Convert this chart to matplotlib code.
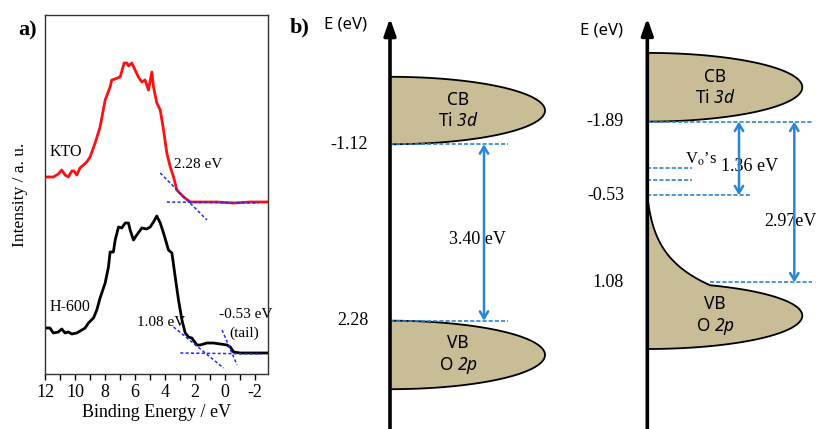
import numpy as np
import matplotlib
matplotlib.use("Agg")
import matplotlib.pyplot as plt
from matplotlib.ticker import MultipleLocator

plt.rcParams['font.family'] = ['Liberation Serif', 'DejaVu Serif']
plt.rcParams['axes.unicode_minus'] = False
plt.rcParams['mathtext.fontset'] = 'custom'
plt.rcParams['mathtext.rm'] = 'Noto Sans'
plt.rcParams['mathtext.it'] = 'Noto Sans:italic'
# \mathbf is used for the italic orbital names so digits come out italic too
plt.rcParams['mathtext.bf'] = 'Noto Sans:italic'

# ---- panel a: valence band XPS ----
kto_be = [12.0, 11.44, 11.11, 10.88, 10.66, 10.44, 10.21, 10.06, 9.88, 9.66, 9.21, 8.99,
          8.65, 8.32, 7.98, 7.65, 7.54, 7.31, 6.98, 6.71, 6.53, 6.42, 6.20, 5.98, 5.76,
          5.53, 5.31, 5.09, 4.86, 4.75, 4.53, 4.30, 4.08, 3.86, 3.63, 3.41, 3.19, 2.74,
          2.29, 1.63, 0.51, -0.60, -1.72, -2.84]
kto_int = [197, 197, 200, 204, 199, 197, 203, 203, 199, 206, 212, 217, 231, 247, 274,
           287, 294, 295, 297, 311, 311, 308, 311, 304, 297, 292, 294, 284, 302, 287,
           271, 264, 244, 221, 207, 197, 184, 177, 172, 172, 172, 171, 172, 172]

h600_be = [12.0, 11.67, 11.44, 11.11, 10.88, 10.66, 10.44, 10.21, 9.88, 9.54, 9.32, 9.10,
           8.76, 8.54, 8.32, 7.98, 7.76, 7.65, 7.43, 7.31, 7.09, 6.87, 6.64, 6.42, 6.31,
           6.09, 5.87, 5.53, 5.20, 4.97, 4.75, 4.53, 4.30, 4.08, 3.75, 3.52, 3.30, 3.08,
           2.85, 2.63, 2.41, 2.19, 1.85, 1.63, 1.18, 0.74, 0.29, -0.16, -0.38, -0.60,
           -1.05, -1.94, -2.84]
h600_int = [46, 46, 41, 42, 45, 41, 42, 40, 41, 44, 46, 51, 56, 64, 76, 91, 107, 122,
            122, 134, 147, 146, 151, 151, 144, 134, 139, 146, 145, 147, 152, 158, 151,
            141, 124, 121, 97, 74, 54, 41, 37, 36, 29, 29, 31, 31, 30, 29, 27, 22, 21,
            21, 21]

# tangent / baseline construction lines (x pairs, y pairs)
kto_tangent = ([4.30, 1.18], [201, 154])
kto_base = ([3.86, -2.28], [172, 171])
h600_tangent = ([3.41, 0.07], [47, 6])
h600_tail_tangent = ([0.17, -0.83], [44, 9])
h600_base = ([2.96, -2.46], [21, 20])

# ---- panel b: band diagrams (eV) ----
kto_cb, kto_vb = -1.12, 2.28
h_cb, h_tail, h_vb = -1.89, -0.53, 1.08
vo_levels = [-1.03, -0.81]

tan = '#c8bd96'
blue = '#2a85d5'
dot_blue = '#1f2bff'

fig = plt.figure(figsize=(8.16, 4.29), dpi=100)
W, H = 816.0, 429.0

ax = fig.add_axes([45 / W, 55 / H, 223 / W, 359 / H])
ax.plot(kto_be, kto_int, color='#ff1010', lw=2.0)
ax.plot(h600_be, h600_int, color='black', lw=2.0)
for xs, ys in [kto_tangent, kto_base, h600_tangent, h600_tail_tangent, h600_base]:
    ax.plot(xs, ys, color=dot_blue, lw=1.1, ls=(0, (2, 1.5)))
ax.set_xlim(12, -2.9)
ax.set_ylim(0, 359)
ax.set_yticks([])
ax.xaxis.set_major_locator(MultipleLocator(2))
ax.xaxis.set_minor_locator(MultipleLocator(1))
ax.tick_params(axis='x', which='both', direction='out', length=4, width=1, labelsize=13)
for s in ax.spines.values():
    s.set_linewidth(1.0)
    s.set_color('#333333')
ax.set_xlabel('Binding Energy / eV', fontsize=13, labelpad=2)
ax.set_ylabel('Intensity / a. u.', fontsize=12.5, labelpad=12)
ax.text(11.67, 222, 'KTO', fontsize=11.5, va='center', ha='left')
ax.text(11.67, 67, 'H-600', fontsize=11.5, va='center', ha='left')
ax.text(3.4, 209, '2.28 eV', fontsize=11, va='center', ha='left')
ax.text(5.85, 52, '1.08 eV', fontsize=11, va='center', ha='left')
ax.text(0.4, 59, '-0.53 eV', fontsize=11, va='center', ha='left')
ax.text(-1.29, 41, '(tail)', fontsize=11, va='center', ha='center')
fig.text(18 / W, 1 - 30 / H, 'a)', fontsize=16, fontweight='bold', va='center', ha='left')
fig.text(290 / W, 1 - 27 / H, 'b)', fontsize=16, fontweight='bold', va='center', ha='left')


def half_band(a, x0, width, e_top, e_bot, n=200):
    t = np.linspace(-np.pi / 2, np.pi / 2, n)
    xs = x0 + width * np.cos(t)
    ys = (e_top + e_bot) / 2 + (e_bot - e_top) / 2 * np.sin(t)
    a.fill(xs, ys, facecolor=tan, edgecolor='black', lw=1.3, zorder=2)


def energy_axis(a, x0, e_tip, e_bottom):
    a.annotate('', xy=(x0, e_tip), xytext=(x0, e_bottom),
               arrowprops=dict(arrowstyle='-|>,head_length=1.0,head_width=0.35',
                               mutation_scale=10, lw=2.6, color='black',
                               shrinkA=0, shrinkB=0), zorder=5)


def gap_arrow(a, x, e1, e2):
    a.annotate('', xy=(x, e1), xytext=(x, e2),
               arrowprops=dict(arrowstyle='<->,head_length=0.5,head_width=0.3',
                               mutation_scale=10, lw=1.8, color=blue,
                               shrinkA=0, shrinkB=0), zorder=4)


def level(a, e, x1, x2):
    a.plot([x1, x2], [e, e], color=blue, lw=1.2, ls=(0, (2.5, 1.2)), zorder=3)


sans = 'Noto Sans'
cb_label = 'CB\nTi $\\mathbf{3d}$'
vb_label = 'VB\nO $\\mathbf{2p}$'

# left diagram (KTO)
axL = fig.add_axes([280 / W, 0, 280 / W, 1])
axL.set_xlim(0, 280)
axL.set_ylim(4.367, -3.90)
axL.axis('off')
x0 = 110
half_band(axL, x0, 155, kto_cb - 1.30, kto_cb)
half_band(axL, x0, 155, kto_vb, kto_vb + 1.32)
energy_axis(axL, x0, -3.55, 4.367)
level(axL, kto_cb, x0, 228)
level(axL, kto_vb, x0, 228)
gap_arrow(axL, 204, kto_cb, kto_vb)
axL.text(197, (kto_cb + kto_vb) / 2 + 0.14, f'{kto_vb - kto_cb:.2f} eV', fontsize=13,
         ha='center', va='center', zorder=3)
axL.text(88, kto_cb, f'{kto_cb:.2f}', fontsize=13, ha='right', va='center')
axL.text(88, kto_vb, f'{kto_vb:.2f}', fontsize=13, ha='right', va='center')
axL.text(178, kto_cb - 0.65, cb_label, fontsize=12.5, family=sans,
         ha='center', va='center', zorder=4)
axL.text(178, kto_vb + 0.66, vb_label, fontsize=12.5, family=sans,
         ha='center', va='center', zorder=4)
axL.text(66, -3.90 + 25 / 51.9, 'E (eV)', fontsize=12, family=sans, ha='center', va='center')

# right diagram (H-600)
axR = fig.add_axes([560 / W, 0, 256 / W, 1])
axR.set_xlim(0, 256)
axR.set_ylim(3.788, -4.137)
axR.axis('off')
x0 = 87.3
half_band(axR, x0, 155, h_cb - 1.27, h_cb)

# valence band with gap-state tail
vb_bot = h_vb + 1.23
ec, be = (h_vb + vb_bot) / 2, (vb_bot - h_vb) / 2
tail_w = 62.7
e_join = ec - be * np.sqrt(1 - (tail_w / 155) ** 2)
tt = np.linspace(0, 1, 100)
k = 3.0
tail_x = x0 + tail_w * (np.exp(k * tt) - 1) / (np.exp(k) - 1)
tail_e = h_tail + (e_join - h_tail) * tt
th0 = np.arccos(tail_w / 155)
th = np.linspace(-th0, np.pi / 2, 200)
ell_x = x0 + 155 * np.cos(th)
ell_e = ec + be * np.sin(th)
vb_x = np.concatenate([[x0], tail_x, ell_x, [x0]])
vb_e = np.concatenate([[vb_bot], tail_e, ell_e, [vb_bot]])
axR.fill(vb_x, vb_e, facecolor=tan, edgecolor='black', lw=1.3, zorder=2)

energy_axis(axR, x0, -4.137 + 18 / 54.13, 3.788)
level(axR, h_cb, x0, 252)
level(axR, h_tail, x0, 190)
level(axR, h_vb, x0 + tail_w, 252)
for v in vo_levels:
    level(axR, v, x0, 131.7)
gap_arrow(axR, 179, h_cb, h_tail)
gap_arrow(axR, 234.3, h_cb, h_vb)
axR.text(190, -1.06, f'{h_tail - h_cb:.2f} eV', fontsize=13, ha='center', va='center', zorder=3)
axR.text(230, -0.04, f'{h_vb - h_cb:.2f}eV', fontsize=13, ha='center', va='center', zorder=3)
axR.text(125, -1.20, 'V$_\\mathrm{o}$’s', fontsize=12, ha='left', va='center',
         math_fontfamily='stix')
for e in [h_cb, h_tail, h_vb]:
    axR.text(64, e, f'{e:.2f}', fontsize=13, ha='right', va='center')
axR.text(42, -4.137 + 30 / 54.13, 'E (eV)', fontsize=12, family=sans, ha='center', va='center')
axR.text(155, h_cb - 0.63, cb_label, fontsize=12.5, family=sans,
         ha='center', va='center', zorder=4)
axR.text(155, ec, vb_label, fontsize=12.5, family=sans,
         ha='center', va='center', zorder=4)

fig.savefig('out.png', dpi=100)
